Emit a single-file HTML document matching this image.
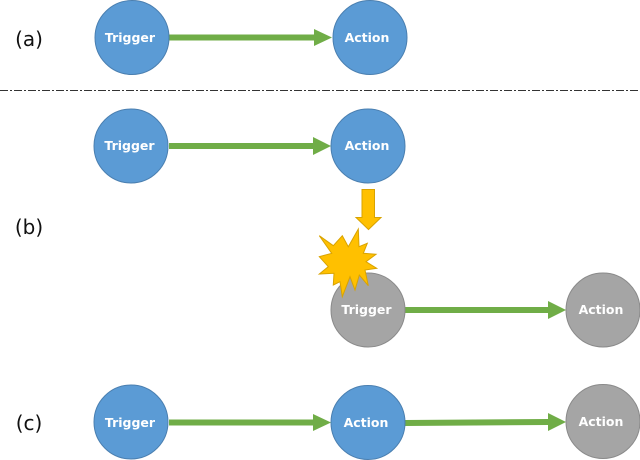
<!DOCTYPE html>
<html><head><meta charset="utf-8"><style>
html,body{margin:0;padding:0;background:#fff}
svg{display:block}
.n{font:bold 12.5px "DejaVu Sans","Liberation Sans",sans-serif;fill:#fff;text-anchor:middle}
.l{font:20px "DejaVu Sans","Liberation Sans",sans-serif;fill:#111;text-anchor:middle}
.b{fill:#5b9bd5;stroke:#4a7fb0;stroke-width:1}
.g{fill:#a5a5a5;stroke:#8a8a8a;stroke-width:1}
.a{fill:#70ad47}
</style></head><body>
<svg width="640" height="460" viewBox="0 0 640 460" xmlns="http://www.w3.org/2000/svg">
<line x1="0" y1="90.5" x2="640" y2="90.5" stroke="#333" stroke-width="1" stroke-dasharray="8 2 2 2"/>
<text class="l" x="29" y="46">(a)</text>
<text class="l" x="29" y="234">(b)</text>
<text class="l" x="29" y="430">(c)</text>

<polygon class="a" points="169,34.500 314,34.500 314,29 332,37.500 314,46 314,40.500 169,40.500"/>
<polygon class="a" points="169,143 313,143 313,137 331,146 313,155 313,149 169,149"/>
<polygon class="a" points="405,307 548,307 548,301 566,310 548,319 548,313 405,313"/>
<polygon class="a" points="169,419.500 313,419.500 313,414 331,422.500 313,431 313,425.500 169,425.500"/>
<polygon class="a" points="405,420 548,419 548,413 566,422 548,431 548,425 405,426"/>

<circle class="b" cx="132" cy="37.500" r="37"/>
<circle class="b" cx="370" cy="37.500" r="37"/>
<circle class="b" cx="131" cy="146" r="37"/>
<circle class="b" cx="368" cy="146" r="37"/>
<circle class="g" cx="368" cy="310" r="37"/>
<circle class="g" cx="603" cy="310" r="37"/>
<circle class="b" cx="131" cy="422" r="37"/>
<circle class="b" cx="368" cy="422.500" r="37"/>
<circle class="g" cx="603" cy="421.500" r="37"/>

<polygon points="362,189.500 374.500,189.500 374.500,217.500 381,217.500 368.500,229.500 356,217.500 362,217.500" fill="#ffc000" stroke="#d9a300" stroke-width="1"/>
<polygon points="319.300,235.700 333.300,245.700 342.300,235.700 348.300,246.700 358.300,229 359,246.700 367.300,243.300 363.300,253.300 376,254.300 366,261.700 376.700,268.300 365,270 368.300,285.700 359.300,275 355,290 350,276.700 342.300,296.700 340,281.700 333.300,285 334,273.300 319.300,274 328.300,266.700 319.300,256.700 331.700,253.300" fill="#ffc000" stroke="#d9a300" stroke-width="1"/>

<text class="n" x="130" y="42">Trigger</text>
<text class="n" x="367" y="42">Action</text>
<text class="n" x="129.500" y="150">Trigger</text>
<text class="n" x="367" y="150">Action</text>
<text class="n" x="366.500" y="314">Trigger</text>
<text class="n" x="601" y="314">Action</text>
<text class="n" x="130" y="427">Trigger</text>
<text class="n" x="366" y="427">Action</text>
<text class="n" x="601" y="426">Action</text>
</svg>
</body></html>
